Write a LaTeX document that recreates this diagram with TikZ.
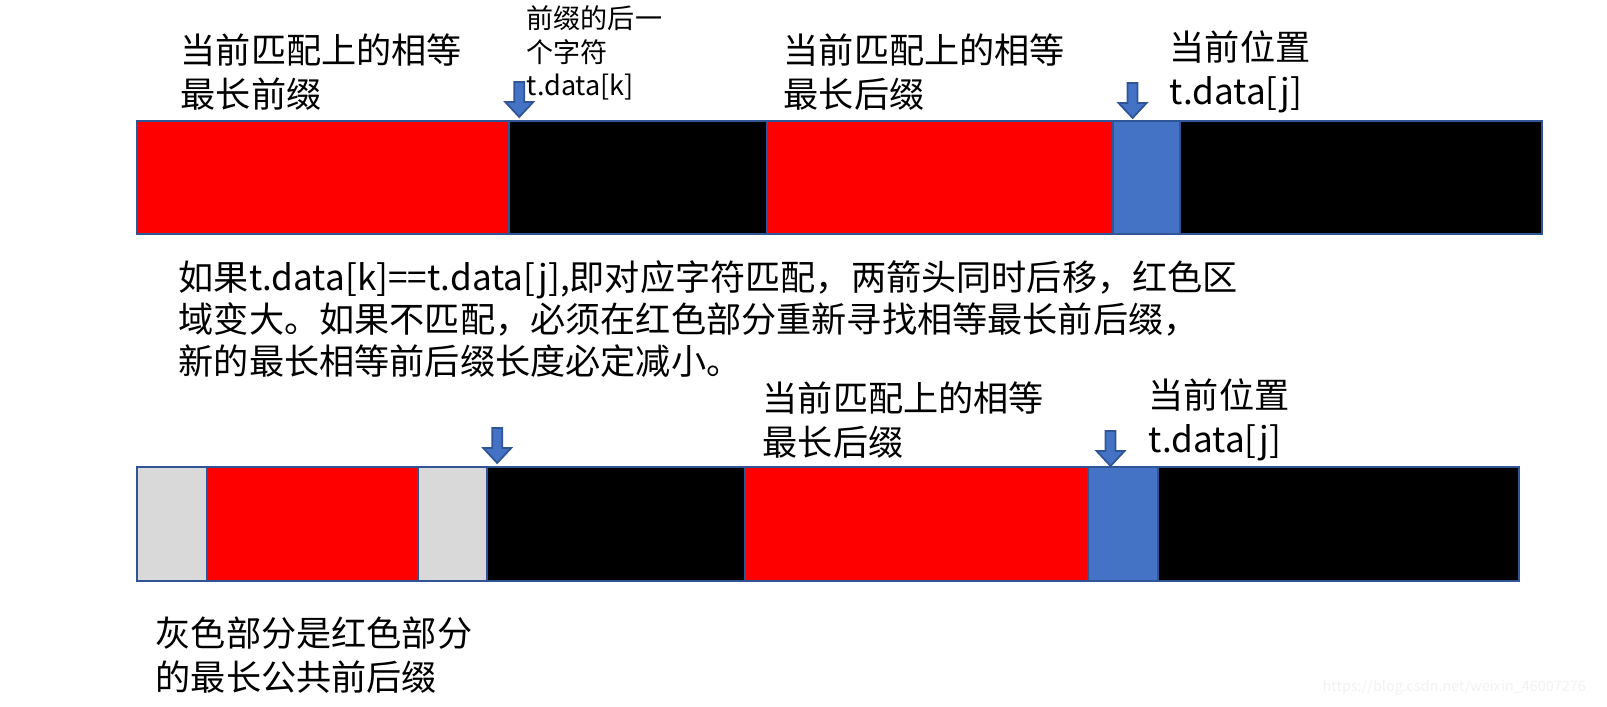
\documentclass[tikz,border=0pt]{standalone}
\usepackage{fontspec}
\setmainfont{Noto Sans CJK SC}
\usepackage{xcolor}
\usepackage{tikz}
\usetikzlibrary{positioning, calc}
\definecolor{KMPRed}{RGB}{255, 0, 0}
\definecolor{KMPBlue}{RGB}{68, 114, 196}
\definecolor{KMPBorder}{RGB}{47, 85, 151}
\definecolor{KMPGray}{RGB}{217, 217, 217}
\definecolor{KMPMark}{RGB}{242, 242, 242}

\begin{document}
\begin{tikzpicture}[x=0.01cm, y=-0.01cm,
    seg/.style={draw=KMPBorder, line width=0.6pt, minimum height=1.13cm,
      inner sep=0pt, outer sep=0pt},
    note/.style={anchor=west, align=left, inner sep=0pt,
      font=\fontsize{10}{12.4}\selectfont},
    pics/pointer/.style={code={
      \draw[fill=KMPBlue, draw=KMPBorder, line width=0.5pt]
        (0,0) -- (14,-15) -- (5,-15) -- (5,-35) -- (-5,-35) -- (-5,-15) -- (-14,-15) -- cycle;
    }}
  ]
  \useasboundingbox (0,0) rectangle (1607,706);

  % upper string: prefix ... suffix, j
  \node[seg, fill=KMPRed, minimum width=3.72cm, anchor=north west] (preA) at (137,121) {};
  \node[seg, fill=black, minimum width=2.58cm, right=0pt of preA] (midA) {};
  \node[seg, fill=KMPRed, minimum width=3.45cm, right=0pt of midA] (sufA) {};
  \node[seg, fill=KMPBlue, minimum width=0.67cm, right=0pt of sufA] (curA) {};
  \node[seg, fill=black, minimum width=3.62cm, right=0pt of curA] (restA) {};

  \coordinate (kTipA) at ([xshift=0.1cm, yshift=0.04cm]midA.north west);
  \coordinate (jTipA) at ([xshift=0.2cm, yshift=0.03cm]curA.north west);
  \pic at (kTipA) {pointer};
  \pic at (jTipA) {pointer};

  \node[note] (preNoteA) at (180,72) {当前匹配上的相等\\最长前缀};
  \node[note, font=\fontsize{7.7}{9.6}\selectfont] (kNoteA) at (526,53) {前缀的后一\\个字符\\t.data[k]};
  \node[note] (sufNoteA) at (783,72) {当前匹配上的相等\\最长后缀};
  \node[note] (jNoteA) at (1169,72) {当前位置\\t.data[j]};

  \node[note, font=\fontsize{10}{11.9}\selectfont] (explain) at (178,319) {如果t.data[k]==t.data[j],即对应字符匹配，两箭头同时后移，红色区\\域变大。如果不匹配，必须在红色部分重新寻找相等最长前后缀，\\新的最长相等前后缀长度必定减小。};

  % lower string: common part (gray) inside the red prefix
  \node[seg, fill=KMPGray, minimum width=0.70cm, minimum height=1.14cm, anchor=north west] (grayL) at (137,467) {};
  \node[seg, fill=KMPRed, minimum width=2.11cm, minimum height=1.14cm, right=0pt of grayL] (preB) {};
  \node[seg, fill=KMPGray, minimum width=0.69cm, minimum height=1.14cm, right=0pt of preB] (grayR) {};
  \node[seg, fill=black, minimum width=2.58cm, minimum height=1.14cm, right=0pt of grayR] (midB) {};
  \node[seg, fill=KMPRed, minimum width=3.42cm, minimum height=1.14cm, right=0pt of midB] (sufB) {};
  \node[seg, fill=KMPBlue, minimum width=0.70cm, minimum height=1.14cm, right=0pt of sufB] (curB) {};
  \node[seg, fill=black, minimum width=3.61cm, minimum height=1.14cm, right=0pt of curB] (restB) {};

  \coordinate (kTipB) at ([xshift=0.1cm, yshift=0.04cm]midB.north west);
  \coordinate (jTipB) at ([xshift=0.23cm, yshift=0.01cm]curB.north west);
  \pic at (kTipB) {pointer};
  \pic at (jTipB) {pointer};

  \node[note] (sufNoteB) at (762,420) {当前匹配上的相等\\最长后缀};
  \node[note] (jNoteB) at (1148,420) {当前位置\\t.data[j]};
  \node[note] (grayNote) at (155,655) {灰色部分是红色部分\\的最长公共前后缀};

  \node[note, font=\fontsize{4.1}{5}\selectfont, text=KMPMark] (mark) at (1322,688) {https://blog.csdn.net/weixin\_46007276};
\end{tikzpicture}
\end{document}
